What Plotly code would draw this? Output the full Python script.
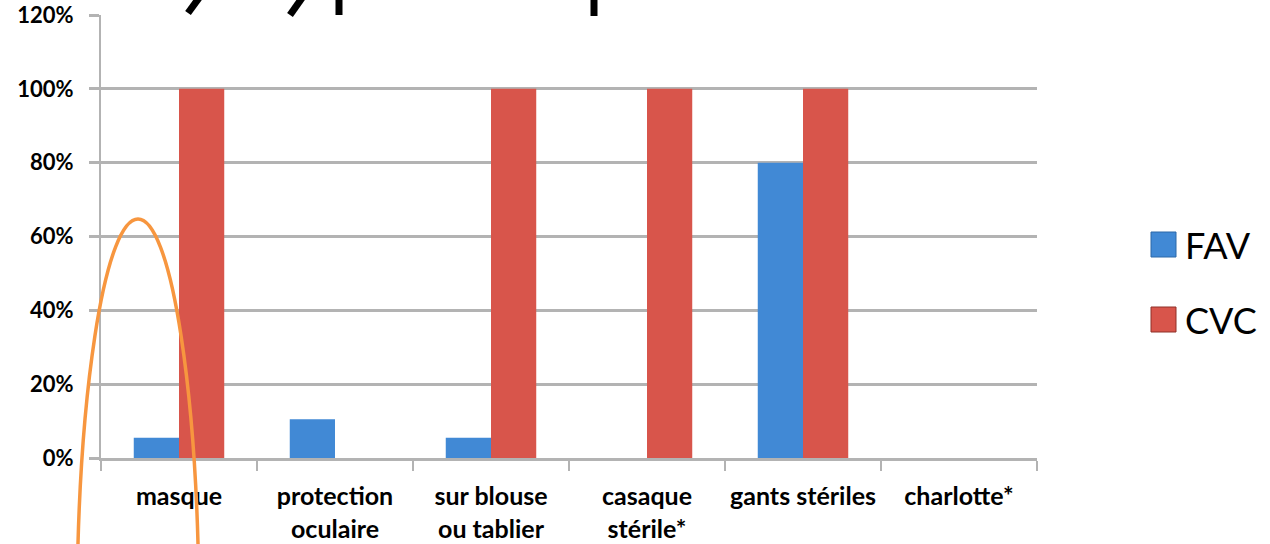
import plotly.graph_objects as go

categories = ["masque", "protection<br>oculaire", "sur blouse<br>ou tablier",
              "casaque<br>stérile*", "gants stériles", "charlotte*"]
fav = [0.055, 0.105, 0.055, 0.0, 0.80, 0.0]
cvc = [1.00, 0.0, 1.00, 1.00, 1.00, 0.0]
series_names = ["FAV", "CVC"]
colors = ["#4189d5", "#d8554b"]
edge_colors = ["#2c68a8", "#8f3029"]

W, H = 1270, 544
L, R, T, B = 101, 233, 15, 86
pw, ph = W - L - R, H - T - B

def px(x):
    return (x - L) / pw

def py(y):
    return (H - B - y) / ph

fig = go.Figure()
for name, vals, c, ec in zip(series_names, [fav, cvc], colors, edge_colors):
    fig.add_trace(go.Bar(x=categories, y=vals, name=name, showlegend=False,
                         marker=dict(color=c, line=dict(color=ec, width=0))))

font_family = "Lato"
fig.update_layout(
    width=W, height=H,
    margin=dict(l=L, r=R, t=T, b=B, pad=0, autoexpand=False),
    paper_bgcolor="white", plot_bgcolor="white",
    barmode="group", bargap=0.42, bargroupgap=0,
    font=dict(family=font_family, color="black"),
    xaxis=dict(showgrid=False, showline=True, linecolor="#b3b3b3", linewidth=3,
               ticks="outside", tickson="boundaries", ticklen=10, tickwidth=2,
               tickcolor="#b3b3b3", tickfont=dict(size=25, family=font_family, weight="bold"),
               ticklabelstandoff=14, automargin=False),
    yaxis=dict(range=[0, 1.2], dtick=0.2, tickformat=".0%", showgrid=True,
               gridcolor="#b3b3b3", gridwidth=3, showline=True, linecolor="#b3b3b3",
               linewidth=2, ticks="outside", ticklen=10, tickwidth=3, tickcolor="#b3b3b3",
               tickfont=dict(size=22, family=font_family, weight="bold"),
               ticklabelstandoff=11, zeroline=False, automargin=False),
)

shapes = []
annotations = []
# manual legend
leg_y = [245, 320]
for name, c, ec, yy in zip(series_names, colors, edge_colors, leg_y):
    shapes.append(dict(type="rect", xref="paper", yref="paper",
                       x0=px(1151), x1=px(1176), y0=py(yy + 12), y1=py(yy - 13),
                       fillcolor=c, line=dict(color=ec, width=1)))
    annotations.append(dict(text=name, xref="paper", yref="paper", x=px(1183), y=py(yy),
                            xanchor="left", yanchor="middle", showarrow=False,
                            font=dict(size=36, family=font_family, color="black")))

# orange ellipse annotation
shapes.append(dict(type="circle", xref="paper", yref="paper",
                   x0=px(77), x1=px(199), y0=py(1019), y1=py(219),
                   line=dict(color="#f7963f", width=3.5), fillcolor="rgba(0,0,0,0)"))

# fragments of a cropped title at top
for (x0, y0, x1, y1) in [(188, 13, 199, -2), (290, 15, 302, -2), (339, 15, 339, -2), (594, 16, 594, -2)]:
    shapes.append(dict(type="line", xref="paper", yref="paper",
                       x0=px(x0), y0=py(y0), x1=px(x1), y1=py(y1),
                       line=dict(color="black", width=7)))

fig.update_layout(shapes=shapes, annotations=annotations)
fig.write_html("out.html", config={"displayModeBar": False},
               post_script="document.body.style.margin='0';document.body.style.overflow='hidden';")
